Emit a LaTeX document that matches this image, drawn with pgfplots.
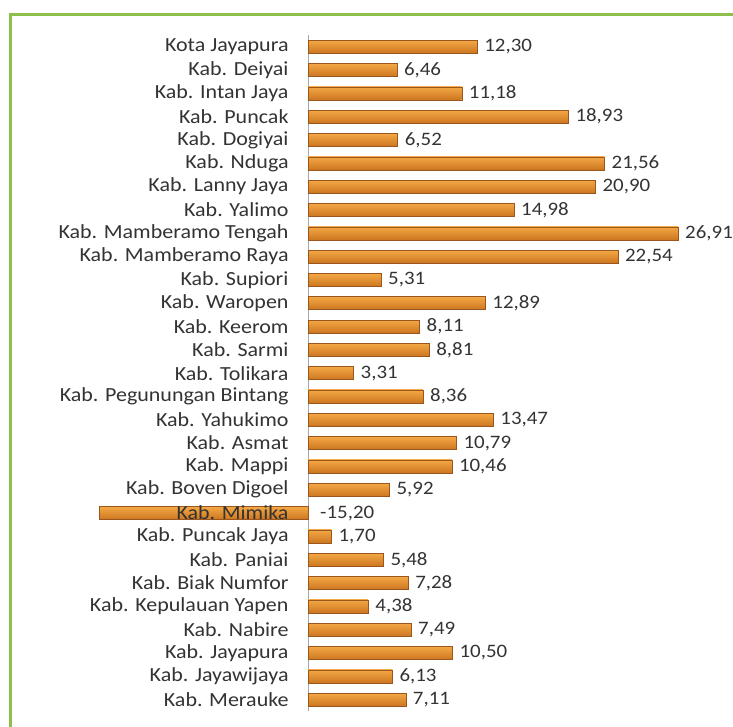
\documentclass[border=0pt]{standalone}
\usepackage{fontspec}
\setmainfont{Carlito}[FakeStretch=1.1]
\usepackage{pgfplots}
\usepackage{pgfplotstable}
\pgfplotsset{compat=1.18}
\definecolor{frame}{HTML}{8DC04A}
\definecolor{lbl}{HTML}{333333}
\definecolor{bartop}{HTML}{F4A845}
\definecolor{barmid}{HTML}{FFEBB5}
\definecolor{barbot}{HTML}{CC7620}
\definecolor{baredge}{HTML}{9A561C}

\pgfplotstableread{
i v
0 12.30
1 6.46
2 11.18
3 18.93
4 6.52
5 21.56
6 20.90
7 14.98
8 26.91
9 22.54
10 5.31
11 12.89
12 8.11
13 8.81
14 3.31
15 8.36
16 13.47
17 10.79
18 10.46
19 5.92
20 -15.20
21 1.70
22 5.48
23 7.28
24 4.38
25 7.49
26 10.50
27 6.13
28 7.11
}\datatable

\begin{document}
\fontsize{20}{24}\selectfont
\begin{tikzpicture}
\useasboundingbox (0pt,0pt) rectangle (733pt,726pt);
\draw[frame, line width=3pt] (10pt,-10pt) -- (10pt,711pt) -- (745pt,711pt);
\begin{axis}[
    at={(88pt,14.7pt)}, anchor=south west,
    scale only axis, width=644.9pt, height=676.3pt,
    xbar, bar width=13pt, bar shift=0pt,
    xmin=-16, xmax=30.9, ymin=-0.5, ymax=28.5, y dir=reverse,
    axis line style={draw=none}, xtick=\empty,
    ytick={0,...,28}, ytick style={draw=none},
    yticklabels={Kota Jayapura,Kab. Deiyai,Kab. Intan Jaya,Kab. Puncak,Kab. Dogiyai,Kab. Nduga,Kab. Lanny Jaya,Kab. Yalimo,Kab. Mamberamo Tengah,Kab. Mamberamo Raya,Kab. Supiori,Kab. Waropen,Kab. Keerom,Kab. Sarmi,Kab. Tolikara,Kab. Pegunungan Bintang,Kab. Yahukimo,Kab. Asmat,Kab. Mappi,Kab. Boven Digoel,Kab. Mimika,Kab. Puncak Jaya,Kab. Paniai,Kab. Biak Numfor,Kab. Kepulauan Yapen,Kab. Nabire,Kab. Jayapura,Kab. Jayawijaya,Kab. Merauke},
    yticklabel style={anchor=east, inner sep=0pt, xshift=205pt, text=lbl, font=\fontsize{20}{24}\selectfont},
    axis on top, clip=false,
    /pgf/number format/assume math mode=true,
    barstyle/.style={draw=baredge, line width=0.4pt, top color=bartop, middle color=barmid, bottom color=barbot},
]
\draw[gray!70, line width=0.8pt] (axis cs:0,-0.5) -- (axis cs:0,28.5);
% one plot per bar, so that each bar gets its own gradient
\pgfplotsinvokeforeach{0,...,28}{
  \addplot[barstyle, restrict y to domain=#1:#1, forget plot] table[x=v, y=i] {\datatable};
}
% value labels of the positive bars
\addplot[draw=none, fill=none, restrict x to domain=0:100,
    nodes near coords={\pgfmathprintnumber[fixed,zerofill,precision=2,use comma]{\pgfplotspointmeta}},
    nodes near coords style={anchor=west, inner sep=0pt, xshift=7pt, text=lbl, font=\fontsize{19}{24}\selectfont}]
  table[x=v, y=i] {\datatable};
\node[anchor=west, inner sep=0pt, xshift=12pt, text=lbl, font=\fontsize{19}{24}\selectfont] at (axis cs:0,20) {-15,20};
\end{axis}
\end{tikzpicture}
\end{document}
